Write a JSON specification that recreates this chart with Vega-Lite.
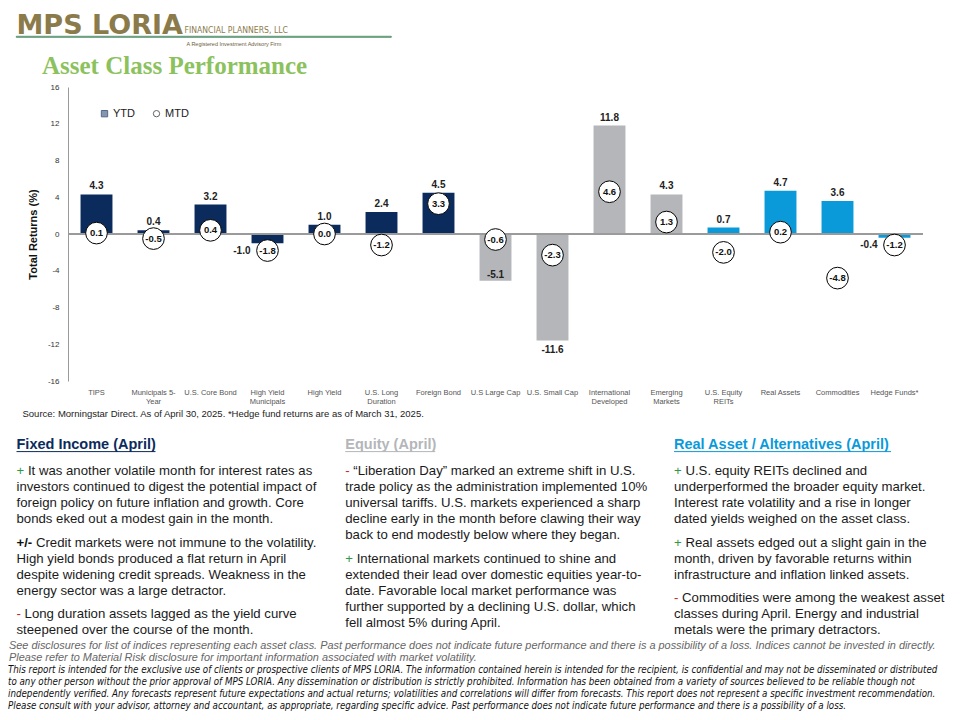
{
  "$schema": "https://vega.github.io/schema/vega-lite/v6.json",
  "background": "white",
  "padding": {"left": 8, "top": 10, "right": 0, "bottom": 0},
  "config": {
    "font": "Liberation Sans",
    "view": {"stroke": null},
    "locale": {"number": {"decimal": ".", "thousands": ",", "grouping": [3], "currency": ["$", ""], "minus": "-"}},
    "concat": {"spacing": 0}
  },
  "resolve": {"legend": {"shape": "independent", "fill": "independent", "stroke": "independent", "color": "independent"}},
  "datasets": {
    "perf": [
      {"asset": "TIPS", "group": "Fixed Income", "YTD": 4.3, "MTD": 0.1},
      {"asset": "Municipals 5-|Year", "group": "Fixed Income", "YTD": 0.4, "MTD": -0.5},
      {"asset": "U.S. Core Bond", "group": "Fixed Income", "YTD": 3.2, "MTD": 0.4},
      {"asset": "High Yield|Municipals", "group": "Fixed Income", "YTD": -1.0, "MTD": -1.8},
      {"asset": "High Yield", "group": "Fixed Income", "YTD": 1.0, "MTD": 0.0},
      {"asset": "U.S. Long|Duration", "group": "Fixed Income", "YTD": 2.4, "MTD": -1.2},
      {"asset": "Foreign Bond", "group": "Fixed Income", "YTD": 4.5, "MTD": 3.3},
      {"asset": "U.S Large Cap", "group": "Equity", "YTD": -5.1, "MTD": -0.6},
      {"asset": "U.S. Small Cap", "group": "Equity", "YTD": -11.6, "MTD": -2.3},
      {"asset": "International|Developed", "group": "Equity", "YTD": 11.8, "MTD": 4.6},
      {"asset": "Emerging|Markets", "group": "Equity", "YTD": 4.3, "MTD": 1.3},
      {"asset": "U.S. Equity|REITs", "group": "Real Assets / Alternatives", "YTD": 0.7, "MTD": -2.0},
      {"asset": "Real Assets", "group": "Real Assets / Alternatives", "YTD": 4.7, "MTD": 0.2},
      {"asset": "Commodities", "group": "Real Assets / Alternatives", "YTD": 3.6, "MTD": -4.8},
      {"asset": "Hedge Funds*", "group": "Real Assets / Alternatives", "YTD": -0.4, "MTD": -1.2}
    ],
    "heads": [
      {"col": 0, "line": -1, "heading": "Fixed Income (April)"},
      {"col": 1, "line": -1, "heading": "Equity (April)"},
      {"col": 2, "line": -1, "heading": "Real Asset / Alternatives (April)"}
    ],
    "lines": [
      {"col": 0, "line": 0, "para": 0, "prefix": "+", "text": "It was another volatile month for interest rates as"},
      {"col": 0, "line": 1, "para": 0, "prefix": "", "text": "investors continued to digest the potential impact of"},
      {"col": 0, "line": 2, "para": 0, "prefix": "", "text": "foreign policy on future inflation and growth. Core"},
      {"col": 0, "line": 3, "para": 0, "prefix": "", "text": "bonds eked out a modest gain in the month."},
      {"col": 0, "line": 4, "para": 1, "prefix": "+/-", "text": "Credit markets were not immune to the volatility."},
      {"col": 0, "line": 5, "para": 1, "prefix": "", "text": "High yield bonds produced a flat return in April"},
      {"col": 0, "line": 6, "para": 1, "prefix": "", "text": "despite widening credit spreads. Weakness in the"},
      {"col": 0, "line": 7, "para": 1, "prefix": "", "text": "energy sector was a large detractor."},
      {"col": 0, "line": 8, "para": 2, "prefix": "-", "text": "Long duration assets lagged as the yield curve"},
      {"col": 0, "line": 9, "para": 2, "prefix": "", "text": "steepened over the course of the month."},
      {"col": 1, "line": 0, "para": 0, "prefix": "-", "text": "“Liberation Day” marked an extreme shift in U.S."},
      {"col": 1, "line": 1, "para": 0, "prefix": "", "text": "trade policy as the administration implemented 10%"},
      {"col": 1, "line": 2, "para": 0, "prefix": "", "text": "universal tariffs. U.S. markets experienced a sharp"},
      {"col": 1, "line": 3, "para": 0, "prefix": "", "text": "decline early in the month before clawing their way"},
      {"col": 1, "line": 4, "para": 0, "prefix": "", "text": "back to end modestly below where they began."},
      {"col": 1, "line": 5, "para": 1, "prefix": "+", "text": "International markets continued to shine and"},
      {"col": 1, "line": 6, "para": 1, "prefix": "", "text": "extended their lead over domestic equities year-to-"},
      {"col": 1, "line": 7, "para": 1, "prefix": "", "text": "date. Favorable local market performance was"},
      {"col": 1, "line": 8, "para": 1, "prefix": "", "text": "further supported by a declining U.S. dollar, which"},
      {"col": 1, "line": 9, "para": 1, "prefix": "", "text": "fell almost 5% during April."},
      {"col": 2, "line": 0, "para": 0, "prefix": "+", "text": "U.S. equity REITs declined and"},
      {"col": 2, "line": 1, "para": 0, "prefix": "", "text": "underperformed the broader equity market."},
      {"col": 2, "line": 2, "para": 0, "prefix": "", "text": "Interest rate volatility and a rise in longer"},
      {"col": 2, "line": 3, "para": 0, "prefix": "", "text": "dated yields weighed on the asset class."},
      {"col": 2, "line": 4, "para": 1, "prefix": "+", "text": "Real assets edged out a slight gain in the"},
      {"col": 2, "line": 5, "para": 1, "prefix": "", "text": "month, driven by favorable returns within"},
      {"col": 2, "line": 6, "para": 1, "prefix": "", "text": "infrastructure and inflation linked assets."},
      {"col": 2, "line": 7, "para": 2, "prefix": "-", "text": "Commodities were among the weakest asset"},
      {"col": 2, "line": 8, "para": 2, "prefix": "", "text": "classes during April. Energy and industrial"},
      {"col": 2, "line": 9, "para": 2, "prefix": "", "text": "metals were the primary detractors."}
    ],
    "foot": [
      {"col": 0, "line": 0, "block": "d", "text": "See disclosures for list of indices representing each asset class. Past performance does not indicate future performance and there is a possibility of a loss. Indices cannot be invested in directly."},
      {"col": 0, "line": 1, "block": "d", "text": "Please refer to Material Risk disclosure for important information associated with market volatility."},
      {"col": 0, "line": 2, "block": "r", "text": "This report is intended for the exclusive use of clients or prospective clients of MPS LORIA. The information contained herein is intended for the recipient, is confidential and may not be disseminated or distributed"},
      {"col": 0, "line": 3, "block": "r", "text": "to any other person without the prior approval of MPS LORIA. Any dissemination or distribution is strictly prohibited. Information has been obtained from a variety of sources believed to be reliable though not"},
      {"col": 0, "line": 4, "block": "r", "text": "independently verified. Any forecasts represent future expectations and actual returns; volatilities and correlations will differ from forecasts. This report does not represent a specific investment recommendation."},
      {"col": 0, "line": 5, "block": "r", "text": "Please consult with your advisor, attorney and accountant, as appropriate, regarding specific advice. Past performance does not indicate future performance and there is a possibility of a loss."}
    ]
  },
  "vconcat": [
    {
      "hconcat": [
        {"width": 7, "height": 18, "data": {"values": []}, "mark": "point"},
        {
          "width": 375,
          "height": 1,
          "view": {"stroke": "#2d7a4b", "strokeWidth": 0.8},
          "layer": [
            {
              "data": {"values": []},
              "mark": "point",
              "encoding": {
                "x": {"field": "a", "type": "quantitative", "scale": {"domain": [0, 1]},
                  "axis": {"orient": "bottom", "title": "A Registered Investment Advisory Firm", "labels": false, "ticks": false, "domain": false, "grid": false,
                    "titleX": 170, "titleY": 6, "titleAlign": "left", "titleBaseline": "middle", "titleFontSize": 5.5, "titleFontWeight": "normal", "titleColor": "#6b5e3a"}},
                "y": {"field": "b", "type": "quantitative", "scale": {"domain": [0, 1]},
                  "axis": {"orient": "left", "title": "MPS LORIA", "labels": false, "ticks": false, "domain": false, "grid": false,
                    "titleAngle": 0, "titleX": 0, "titleY": -3, "titleAlign": "left", "titleBaseline": "alphabetic",
                    "titleFont": "DejaVu Sans", "titleFontSize": 27, "titleFontWeight": "bold", "titleColor": "#8b7b4b"}}
              }
            },
            {
              "data": {"values": []},
              "mark": "point",
              "encoding": {
                "x": {"field": "c", "type": "quantitative", "scale": {"domain": [0, 1]},
                  "axis": {"orient": "top", "title": "FINANCIAL PLANNERS, LLC", "labels": false, "ticks": false, "domain": false, "grid": false,
                    "titleX": 168, "titleY": -4, "titleAlign": "left", "titleBaseline": "alphabetic",
                    "titleFont": "Liberation Sans Narrow, DejaVu Sans Condensed, sans-serif", "titleFontSize": 8.6, "titleFontWeight": "normal", "titleColor": "#8b7b4b"}}
              }
            }
          ],
          "resolve": {"scale": {"x": "independent"}, "axis": {"x": "independent"}}
        }
      ],
      "spacing": 0
    },
    {
      "hconcat": [
        {"width": 1, "height": 345, "data": {"values": []}, "mark": "point"},
        {
          "width": 855,
          "height": 294,
          "title": {"text": "Asset Class Performance", "anchor": "start", "frame": "group", "dx": -26, "font": "Liberation Serif", "fontSize": 25, "fontWeight": "bold", "color": "#8cc25e", "offset": 4},
          "data": {"name": "perf"},
          "resolve": {"axis": {"y": "independent"}},
          "layer": [
            {
              "mark": {"type": "bar"},
              "encoding": {
                "x": {"field": "asset", "type": "nominal", "sort": null,
                  "scale": {"paddingInner": 0.44, "paddingOuter": 0.22},
                  "axis": {"title": "Source: Morningstar Direct. As of April 30, 2025. *Hedge fund returns are as of March 31, 2025.",
                    "labelExpr": "split(datum.label, '|')", "labelAngle": 0, "labelFontSize": 7.5, "labelColor": "#555555", "labelLineHeight": 9, "labelPadding": 7,
                    "ticks": false, "domain": false, "titleAlign": "left", "titleAnchor": "start", "titleX": -46, "titleY": 32, "titleBaseline": "middle",
                    "titleFontSize": 9.5, "titleFontWeight": "normal", "titleColor": "#222222"}},
                "y": {"field": "YTD", "type": "quantitative", "scale": {"domain": [-16, 16], "nice": false},
                  "axis": {"orient": "left", "title": "Total Returns (%)", "values": [-16, -8, 0, 8, 16], "labelOverlap": false, "grid": false, "ticks": false,
                    "domainColor": "#9a9a9a", "labelFontSize": 8, "labelColor": "#333333", "labelPadding": 9,
                    "titleFontSize": 11, "titleFontWeight": "bold", "titleColor": "#111111", "titlePadding": 9}},
                "color": {"field": "group", "type": "nominal",
                  "scale": {"domain": ["Fixed Income", "Equity", "Real Assets / Alternatives"], "range": ["#0b2b5c", "#b4b6ba", "#0a9ad9"]}, "legend": null}
              }
            },
            {
              "mark": {"type": "rule", "color": "#9a9a9a", "strokeWidth": 1},
              "encoding": {"y": {"datum": 0, "type": "quantitative",
                "axis": {"orient": "left", "title": null, "values": [-12, -4, 4, 12], "labelOverlap": false, "grid": false, "ticks": false, "domain": false,
                  "labelFontSize": 8, "labelColor": "#333333", "labelPadding": 9}}}
            },
            {
              "transform": [{"filter": "datum.YTD >= 0"}],
              "mark": {"type": "text", "fontSize": 10, "fontWeight": "bold", "baseline": "bottom", "dy": -3, "color": "#222222"},
              "encoding": {
                "x": {"field": "asset", "type": "nominal", "sort": null},
                "y": {"field": "YTD", "type": "quantitative", "axis": null},
                "text": {"field": "YTD", "type": "quantitative", "format": ".1f"}
              }
            },
            {
              "transform": [{"filter": "datum.YTD < 0 && datum.YTD > -2"}],
              "mark": {"type": "text", "fontSize": 10, "fontWeight": "bold", "baseline": "middle", "align": "right", "dx": -17, "color": "#222222"},
              "encoding": {
                "x": {"field": "asset", "type": "nominal", "sort": null},
                "y": {"field": "MTD", "type": "quantitative", "axis": null},
                "text": {"field": "YTD", "type": "quantitative", "format": ".1f"}
              }
            },
            {
              "transform": [{"filter": "datum.YTD <= -2 && datum.YTD > -8"}],
              "mark": {"type": "text", "fontSize": 10, "fontWeight": "bold", "baseline": "bottom", "dy": -1, "color": "#222222"},
              "encoding": {
                "x": {"field": "asset", "type": "nominal", "sort": null},
                "y": {"field": "YTD", "type": "quantitative", "axis": null},
                "text": {"field": "YTD", "type": "quantitative", "format": ".1f"}
              }
            },
            {
              "transform": [{"filter": "datum.YTD <= -8"}],
              "mark": {"type": "text", "fontSize": 10, "fontWeight": "bold", "baseline": "top", "dy": 4, "color": "#222222"},
              "encoding": {
                "x": {"field": "asset", "type": "nominal", "sort": null},
                "y": {"field": "YTD", "type": "quantitative", "axis": null},
                "text": {"field": "YTD", "type": "quantitative", "format": ".1f"}
              }
            },
            {
              "mark": {"type": "point", "shape": "circle", "filled": true, "fill": "white", "stroke": "black", "strokeWidth": 1, "size": 470, "opacity": 1},
              "encoding": {
                "x": {"field": "asset", "type": "nominal", "sort": null},
                "y": {"field": "MTD", "type": "quantitative", "axis": null}
              }
            },
            {
              "mark": {"type": "text", "fontSize": 9.5, "fontWeight": "bold", "baseline": "middle", "color": "#111111"},
              "encoding": {
                "x": {"field": "asset", "type": "nominal", "sort": null},
                "y": {"field": "MTD", "type": "quantitative", "axis": null},
                "text": {"field": "MTD", "type": "quantitative", "format": ".1f"}
              }
            },
            {
              "data": {"values": []},
              "mark": {"type": "point", "filled": true, "strokeWidth": 1},
              "encoding": {
                "shape": {"field": "measure", "type": "nominal", "scale": {"domain": ["YTD", "MTD"], "range": ["square", "circle"]},
                  "legend": {"title": null, "orient": "none", "legendX": 31, "legendY": 21, "direction": "horizontal", "labelFontSize": 11, "labelFontWeight": "normal", "labelColor": "#222222", "symbolSize": 40, "symbolStrokeWidth": 1, "columnPadding": 16, "labelOffset": 3, "padding": 0}},
                "fill": {"field": "measure", "type": "nominal", "scale": {"domain": ["YTD", "MTD"], "range": ["#0b2b5c", "#ffffff"]},
                  "legend": {"title": null, "orient": "none", "legendX": 31, "legendY": 21, "direction": "horizontal", "labelFontSize": 11, "labelFontWeight": "normal", "labelColor": "#222222", "symbolSize": 40, "symbolStrokeWidth": 1, "columnPadding": 16, "labelOffset": 3, "padding": 0}},
                "stroke": {"field": "measure", "type": "nominal", "scale": {"domain": ["YTD", "MTD"], "range": ["#0b2b5c", "#222222"]},
                  "legend": {"title": null, "orient": "none", "legendX": 31, "legendY": 21, "direction": "horizontal", "labelFontSize": 11, "labelFontWeight": "normal", "labelColor": "#222222", "symbolSize": 40, "symbolStrokeWidth": 1, "columnPadding": 16, "labelOffset": 3, "padding": 0}}
              }
            }
          ]
        }
      ],
      "spacing": 13,
      "resolve": {"legend": {"shape": "independent", "fill": "independent", "stroke": "independent", "color": "independent"}}
    },
    {
      "width": 940,
      "height": 208,
      "layer": [
        {
          "data": {"name": "heads"},
          "mark": {"type": "text", "align": "left", "baseline": "middle", "fontSize": 14.5, "fontWeight": "bold", "dy": -9.7},
          "encoding": {
            "x": {"field": "col", "type": "quantitative", "scale": {"domain": [-0.025856, 2.83346], "nice": false, "zero": false}, "axis": null},
            "y": {"field": "line", "type": "ordinal", "scale": {"type": "point", "domain": [-1, 0, 1, 2, 3, 4, 5, 6, 7, 8, 9, 10], "padding": 1, "align": 0.71875}, "axis": null},
            "text": {"field": "heading"},
            "color": {"field": "col", "type": "ordinal", "scale": {"domain": [0, 1, 2], "range": ["#0c2c5c", "#a6a6a6", "#1599d6"]}, "legend": null}
          }
        },
        {
          "data": {"name": "heads"},
          "transform": [{"filter": "datum.col === 0"}],
          "mark": {"type": "rule", "x2Offset": 139, "yOffset": -3.4, "strokeWidth": 1},
          "encoding": {
            "x": {"field": "col", "type": "quantitative"},
            "x2": {"field": "col"},
            "y": {"field": "line", "type": "ordinal"},
            "color": {"field": "col", "type": "ordinal", "legend": null}
          }
        },
        {
          "data": {"name": "heads"},
          "transform": [{"filter": "datum.col === 1"}],
          "mark": {"type": "rule", "x2Offset": 90, "yOffset": -3.4, "strokeWidth": 1},
          "encoding": {
            "x": {"field": "col", "type": "quantitative"},
            "x2": {"field": "col"},
            "y": {"field": "line", "type": "ordinal"},
            "color": {"field": "col", "type": "ordinal", "legend": null}
          }
        },
        {
          "data": {"name": "heads"},
          "transform": [{"filter": "datum.col === 2"}],
          "mark": {"type": "rule", "x2Offset": 217, "yOffset": -3.4, "strokeWidth": 1},
          "encoding": {
            "x": {"field": "col", "type": "quantitative"},
            "x2": {"field": "col"},
            "y": {"field": "line", "type": "ordinal"},
            "color": {"field": "col", "type": "ordinal", "legend": null}
          }
        },
        {
          "data": {"name": "lines"},
          "transform": [{"filter": "datum.prefix === '+'"}],
          "mark": {"type": "text", "align": "left", "baseline": "middle", "fontSize": 13.2, "fill": "#2f9a46"},
          "encoding": {
            "x": {"field": "col", "type": "quantitative"},
            "y": {"field": "line", "type": "ordinal"},
            "yOffset": {"field": "para", "type": "quantitative", "scale": {"domain": [0, 2], "range": [0, 15.4]}},
            "text": {"field": "prefix"}
          }
        },
        {
          "data": {"name": "lines"},
          "transform": [{"filter": "datum.prefix === '-'"}],
          "mark": {"type": "text", "align": "left", "baseline": "middle", "fontSize": 13.2, "fill": "#c62828"},
          "encoding": {
            "x": {"field": "col", "type": "quantitative"},
            "y": {"field": "line", "type": "ordinal"},
            "yOffset": {"field": "para", "type": "quantitative", "scale": {"domain": [0, 2], "range": [0, 15.4]}},
            "text": {"field": "prefix"}
          }
        },
        {
          "data": {"name": "lines"},
          "transform": [{"filter": "datum.prefix === '+/-'"}],
          "mark": {"type": "text", "align": "left", "baseline": "middle", "fontSize": 13.2, "fontWeight": "bold", "fill": "#111111"},
          "encoding": {
            "x": {"field": "col", "type": "quantitative"},
            "y": {"field": "line", "type": "ordinal"},
            "yOffset": {"field": "para", "type": "quantitative", "scale": {"domain": [0, 2], "range": [0, 15.4]}},
            "text": {"field": "prefix"}
          }
        },
        {
          "data": {"name": "lines"},
          "transform": [{"filter": "datum.prefix === ''"}],
          "mark": {"type": "text", "align": "left", "baseline": "middle", "fontSize": 13.2, "fill": "#1a1a1a"},
          "encoding": {
            "x": {"field": "col", "type": "quantitative"},
            "y": {"field": "line", "type": "ordinal"},
            "yOffset": {"field": "para", "type": "quantitative", "scale": {"domain": [0, 2], "range": [0, 15.4]}},
            "text": {"field": "text"}
          }
        },
        {
          "data": {"name": "lines"},
          "transform": [{"filter": "datum.prefix === '+'"}],
          "mark": {"type": "text", "align": "left", "baseline": "middle", "fontSize": 13.2, "fill": "#1a1a1a", "dx": 11.4},
          "encoding": {
            "x": {"field": "col", "type": "quantitative"},
            "y": {"field": "line", "type": "ordinal"},
            "yOffset": {"field": "para", "type": "quantitative", "scale": {"domain": [0, 2], "range": [0, 15.4]}},
            "text": {"field": "text"}
          }
        },
        {
          "data": {"name": "lines"},
          "transform": [{"filter": "datum.prefix === '-'"}],
          "mark": {"type": "text", "align": "left", "baseline": "middle", "fontSize": 13.2, "fill": "#1a1a1a", "dx": 8.1},
          "encoding": {
            "x": {"field": "col", "type": "quantitative"},
            "y": {"field": "line", "type": "ordinal"},
            "yOffset": {"field": "para", "type": "quantitative", "scale": {"domain": [0, 2], "range": [0, 15.4]}},
            "text": {"field": "text"}
          }
        },
        {
          "data": {"name": "lines"},
          "transform": [{"filter": "datum.prefix === '+/-'"}],
          "mark": {"type": "text", "align": "left", "baseline": "middle", "fontSize": 13.2, "fill": "#1a1a1a", "dx": 19.4},
          "encoding": {
            "x": {"field": "col", "type": "quantitative"},
            "y": {"field": "line", "type": "ordinal"},
            "yOffset": {"field": "para", "type": "quantitative", "scale": {"domain": [0, 2], "range": [0, 15.4]}},
            "text": {"field": "text"}
          }
        }
      ]
    },
    {
      "width": 940,
      "height": 72,
      "data": {"name": "foot"},
      "encoding": {
        "x": {"field": "col", "type": "quantitative", "scale": {"domain": [0, 1], "nice": false}, "axis": null},
        "y": {"field": "line", "type": "ordinal", "scale": {"type": "point", "domain": [0, 1, 2, 3, 4, 5], "padding": 0.5, "align": 0.5}, "axis": null},
        "text": {"field": "text"}
      },
      "layer": [
        {
          "transform": [{"filter": "datum.block === 'd'"}],
          "mark": {"type": "text", "align": "left", "baseline": "middle", "fontSize": 10.9, "fontStyle": "italic", "color": "#666666", "dx": 1}
        },
        {
          "transform": [{"filter": "datum.block === 'r'"}],
          "mark": {"type": "text", "align": "left", "baseline": "middle", "font": "Liberation Sans Narrow, DejaVu Sans Condensed, sans-serif", "fontSize": 9.7, "fontStyle": "italic", "color": "#111111"}
        }
      ]
    }
  ],
  "spacing": 0
}
